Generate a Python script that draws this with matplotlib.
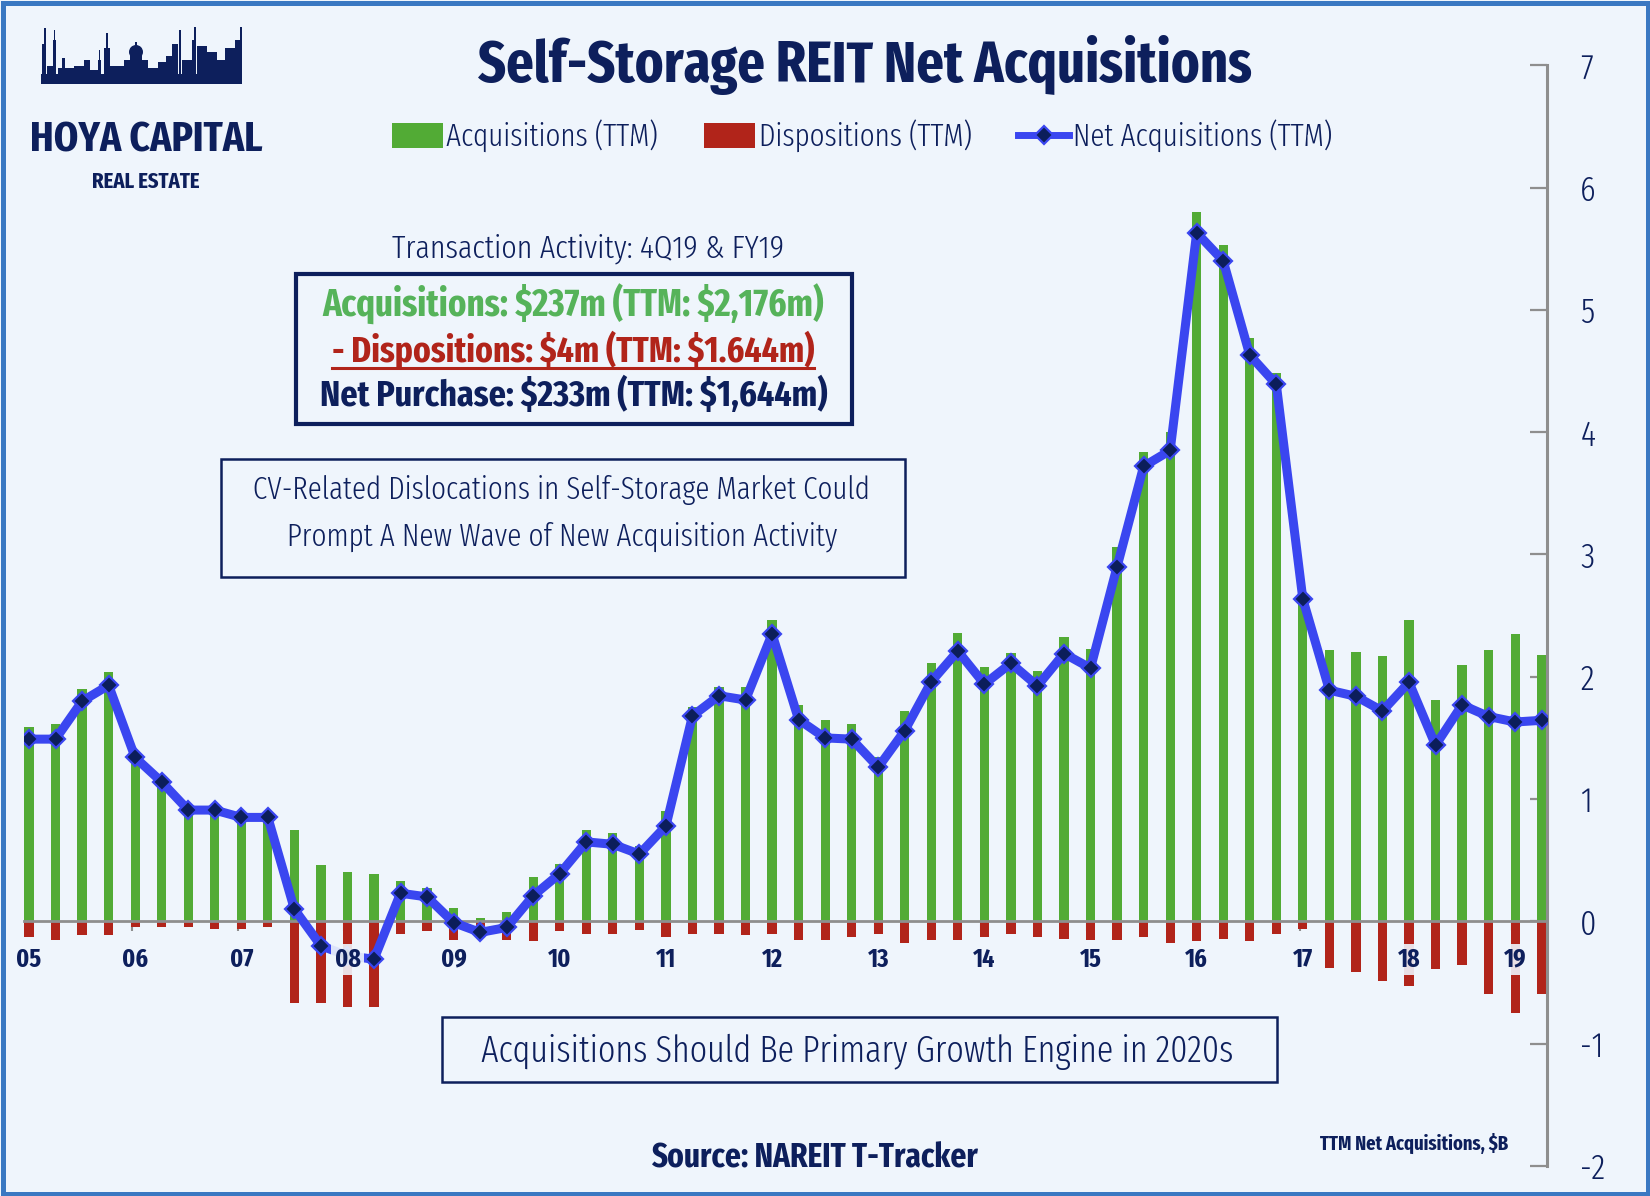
import os
import numpy as np
import matplotlib
matplotlib.use('Agg')
import matplotlib.pyplot as plt
from matplotlib import font_manager as fm
from matplotlib.font_manager import FontProperties
from matplotlib.textpath import TextPath
from matplotlib.patches import Rectangle, Patch, Ellipse
from matplotlib.lines import Line2D

# ---------------- data ----------------
years = ['05', '06', '07', '08', '09', '10', '11', '12', '13', '14', '15', '16', '17', '18', '19']

acquisitions = [1.59, 1.61, 1.90, 2.04,
                1.36, 1.15, 0.93, 0.93,
                0.87, 0.87, 0.75, 0.46,
                0.40, 0.39, 0.33, 0.27,
                0.11, 0.03, 0.08, 0.36,
                0.47, 0.75, 0.72, 0.62,
                0.90, 1.75, 1.92, 1.92,
                2.46, 1.77, 1.645, 1.61,
                1.345, 1.72, 2.11, 2.36,
                2.08, 2.195, 2.05, 2.325,
                2.23, 3.06, 3.84, 4.00,
                5.80, 5.53, 4.77, 4.48,
                2.66, 2.22, 2.20, 2.17,
                2.465, 1.81, 2.10, 2.22,
                2.35, 2.176]

dispositions = [0.13, 0.15, 0.11, 0.11,
                0.05, 0.05, 0.05, 0.06,
                0.06, 0.05, 0.67, 0.67,
                0.70, 0.70, 0.10, 0.08,
                0.15, 0.05, 0.15, 0.16,
                0.08, 0.10, 0.10, 0.07,
                0.13, 0.10, 0.10, 0.11,
                0.10, 0.15, 0.15, 0.13,
                0.10, 0.18, 0.15, 0.15,
                0.13, 0.10, 0.13, 0.14,
                0.15, 0.15, 0.13, 0.18,
                0.16, 0.14, 0.16, 0.10,
                0.06, 0.38, 0.41, 0.49,
                0.53, 0.39, 0.36, 0.59,
                0.75, 0.59]

net_acquisitions = [1.49, 1.49, 1.80, 1.93,
                    1.34, 1.14, 0.91, 0.91,
                    0.85, 0.85, 0.10, -0.20,
                    -0.28, -0.31, 0.23, 0.20,
                    -0.01, -0.09, -0.05, 0.21,
                    0.39, 0.65, 0.63, 0.55,
                    0.78, 1.68, 1.845, 1.81,
                    2.35, 1.65, 1.50, 1.49,
                    1.26, 1.56, 1.96, 2.21,
                    1.94, 2.11, 1.925, 2.19,
                    2.07, 2.90, 3.72, 3.85,
                    5.63, 5.40, 4.63, 4.39,
                    2.635, 1.89, 1.84, 1.72,
                    1.955, 1.44, 1.77, 1.675,
                    1.63, 1.644]

y_ticks = [-2, -1, 0, 1, 2, 3, 4, 5, 6, 7]

series_labels = ['Acquisitions (TTM)', 'Dispositions (TTM)', 'Net Acquisitions (TTM)']

# ---------------- style ----------------
W, H, DPI = 1650, 1196, 100
NAVY = '#0D1F5C'
GREEN = '#52AB35'
RED = '#B1241A'
BLUE = '#3A46F0'
MARK = '#0C1E5B'
GREY = '#8E8E8E'
BG = '#EFF5FC'
BORDER = '#3A78C2'
TEXT_GREEN = '#56B35A'


def _weight(f):
    w = f.weight
    if isinstance(w, str):
        w = fm.weight_dict.get(w, 400)
    return int(w)


def _cond_rank(f):
    s = (f.fname + ' ' + f.name).lower().replace(' ', '').replace('-', '').replace('_', '')
    if 'extracondensed' in s:
        return 0
    if 'ultracondensed' in s:
        return 4
    if 'semicondensed' in s:
        return 3
    if 'condensed' in s or 'narrow' in s:
        return 1
    if str(f.stretch) in ('condensed', 'extra-condensed', 'semi-condensed'):
        return 2
    return 9


def pick_font(target_weight, fallback_weight):
    best, bscore = None, None
    for f in fm.fontManager.ttflist:
        if f.style != 'normal':
            continue
        if not f.fname.lower().endswith(('.ttf', '.otf')):
            continue
        r = _cond_rank(f)
        if r == 9:
            continue
        dw = abs(_weight(f) - target_weight)
        score = (dw > 150, r, dw)
        if bscore is None or score < bscore:
            best, bscore = f, score
    if best is not None:
        return FontProperties(fname=best.fname)
    return FontProperties(family=['DejaVu Sans'], weight=fallback_weight)


BOLD_FP = pick_font(650, 'bold')
REG_FP = pick_font(300, 'normal')

fig = plt.figure(figsize=(W / DPI, H / DPI), dpi=DPI)
fig.patch.set_facecolor(BG)
renderer = fig.canvas.get_renderer()


def fx(x):
    return x / W


def fy(y):
    return 1 - y / H


def cap_ratio(fp):
    try:
        tp = TextPath((0, 0), 'H', size=100, prop=fp)
        r = tp.get_extents().height / 100.0
        if 0.4 < r < 0.95:
            return r
    except Exception:
        pass
    return 0.72


def sized(s, base_fp, cap, width=None, lo=0.55, hi=1.12):
    p = base_fp.copy()
    size_px = cap / cap_ratio(base_fp)
    p.set_size(size_px * 72 / DPI)
    if width:
        t = fig.text(0, 0, s, fontproperties=p, parse_math=False)
        w = t.get_window_extent(renderer).width
        t.remove()
        k = min(max(width / w, lo), hi)
        p.set_size(size_px * k * 72 / DPI)
    return p


def put(s, x, base_y, cap, width, base_fp, color, ha='center', lo=0.55, hi=1.12):
    p = sized(s, base_fp, cap, width, lo, hi)
    return fig.text(fx(x), fy(base_y), s, fontproperties=p, color=color,
                    ha=ha, va='baseline', parse_math=False)


def box(x0, y0, x1, y1, lw):
    fig.add_artist(Rectangle((fx(x0), fy(y1)), (x1 - x0) / W, (y1 - y0) / H,
                             transform=fig.transFigure, fill=False, ec=NAVY, lw=lw))


# ---------------- main axes ----------------
x_left_px, x_right_px = 23.96, 1547.0
y_top_px, y_bot_px = 65.2, 1166.0
ax = fig.add_axes([fx(x_left_px), fy(y_bot_px), (x_right_px - x_left_px) / W, (y_bot_px - y_top_px) / H])
ax.patch.set_alpha(0)

x = np.arange(len(acquisitions))
acq = np.array(acquisitions)
disp = np.array(dispositions)
net = np.array(net_acquisitions)

ax.bar(x, acq, width=0.35, color=GREEN, zorder=2, label=series_labels[0])
ax.bar(x, -disp, width=0.35, color=RED, zorder=2, label=series_labels[1])
ax.plot(x, net, color=BLUE, lw=6.5, marker='D', ms=9.4, mfc=MARK, mec=BLUE, mew=1.6,
        zorder=4, solid_joinstyle='round', label=series_labels[2])

ax.set_xlim(-0.19, 57.2)
ax.set_ylim(-2, 7)

for side in ('top', 'left'):
    ax.spines[side].set_visible(False)
ax.spines['bottom'].set_position(('data', 0))
ax.spines['bottom'].set_color(GREY)
ax.spines['bottom'].set_linewidth(2.0)
ax.spines['right'].set_color(GREY)
ax.spines['right'].set_linewidth(2.2)

year_pos = x[::4]
ax.set_xticks(year_pos - 0.12)
ax.tick_params(axis='x', direction='out', length=7, width=1.5, color=GREY, labelbottom=False)

tick_fp = sized('0', REG_FP, 24)
ax.yaxis.set_ticks_position('right')
ax.set_yticks(y_ticks, [str(v) for v in y_ticks], fontproperties=tick_fp, color=NAVY)
ax.tick_params(axis='y', direction='in', length=12, width=1.6, color=GREY, pad=24)

year_fp = sized('05', BOLD_FP, 18, 25, lo=0.7, hi=1.15)
for pos, lab in zip(year_pos, years):
    ax.text(pos, -0.37, lab, ha='center', va='baseline', fontproperties=year_fp, color=NAVY,
            zorder=6, bbox=dict(boxstyle='square,pad=0.12', fc=BG, ec='none', alpha=0.9))

# ---------------- title & legend ----------------
put('Self-Storage REIT Net Acquisitions', 864.5, 82, 44, 775, BOLD_FP, NAVY, lo=0.45)

leg_fp = sized('Acquisitions (TTM)', REG_FP, 25, 212, lo=0.5)
F_px = leg_fp.get_size_in_points() * DPI / 72
handles = [Patch(fc=GREEN, ec='none'), Patch(fc=RED, ec='none'),
           Line2D([], [], color=BLUE, lw=5, marker='D', ms=9.4, mfc=MARK, mec=BLUE, mew=1.6)]
fig.legend(handles, series_labels, loc='center', bbox_to_anchor=(fx(862), fy(136)), ncol=3,
           frameon=False, prop=leg_fp, labelcolor=NAVY, handlelength=51 / F_px,
           handleheight=26 / F_px, handletextpad=4 / F_px, columnspacing=46 / F_px,
           borderaxespad=0, borderpad=0, numpoints=1)

# ---------------- annotation boxes ----------------
put('Transaction Activity: 4Q19 & FY19', 588, 258, 22, 392, REG_FP, NAVY)
box(296, 274, 852, 424, 3.0)
put('Acquisitions: $237m (TTM: $2,176m)', 573.5, 317, 25, 501, BOLD_FP, TEXT_GREEN)
t_disp = put('- Dispositions: $4m (TTM: $1.644m)', 573, 362, 25, 482, BOLD_FP, RED)
bb = t_disp.get_window_extent(renderer)
fig.add_artist(Line2D([bb.x0 / W, bb.x1 / W], [fy(367.5)] * 2, transform=fig.transFigure,
                      color=RED, lw=2.2))
put('Net Purchase: $233m (TTM: $1,644m)', 574, 406, 24, 508, BOLD_FP, NAVY)

box(221, 459, 905, 577, 1.8)
put('CV-Related Dislocations in Self-Storage Market Could', 561, 499, 23, 618, REG_FP, NAVY)
put('Prompt A New Wave of New Acquisition Activity', 562, 545, 23, 551, REG_FP, NAVY)

box(442, 1017, 1277, 1082, 1.8)
put('Acquisitions Should Be Primary Growth Engine in 2020s', 857.5, 1062, 27, 751, REG_FP, NAVY)

put('Source: NAREIT T-Tracker', 814.5, 1168, 23, 327, BOLD_FP, NAVY)
put('TTM Net Acquisitions, $B', 1508, 1150, 13, 189, BOLD_FP, NAVY, ha='right')

# ---------------- logo ----------------
skyline = [(42, 3, 44), (44, 1.5, 28), (47, 6, 66), (53, 2.5, 40), (54.5, 1, 30),
           (58, 16, 68), (62, 3, 58), (74, 10, 66), (84, 6, 60), (90, 8, 70),
           (98, 3, 60), (99, 1.2, 50), (104, 6, 48), (106.3, 1.5, 33), (110, 14, 66),
           (124, 24, 60), (130, 12, 50), (135.4, 1.4, 42), (148, 10, 68), (158, 8, 62),
           (166, 6, 56), (172, 6, 44), (178.5, 2, 30), (182, 10, 60), (192, 3, 40),
           (194, 2, 27), (197, 10, 46), (207, 10, 52), (217, 8, 60), (225, 10, 48),
           (235, 6, 40), (240, 2, 27)]
for bx, bw, btop in skyline:
    fig.add_artist(Rectangle((fx(bx), fy(84)), bw / W, (84 - btop) / H,
                             transform=fig.transFigure, fc=NAVY, ec='none'))
fig.add_artist(Ellipse((fx(136), fy(52)), 14 / W, 14 / H, transform=fig.transFigure,
                       fc=NAVY, ec='none'))
fig.add_artist(Rectangle((fx(41), fy(84)), 201 / W, 10 / H, transform=fig.transFigure,
                         fc=NAVY, ec='none'))
put('HOYA CAPITAL', 146, 152, 64, 232, BOLD_FP, NAVY, lo=0.3)
put('REAL ESTATE', 146, 188, 29, 108, BOLD_FP, NAVY, lo=0.35)

# ---------------- frame ----------------
fig.add_artist(Rectangle((fx(2.5), fy(1193.5)), 1645 / W, 1191 / H, transform=fig.transFigure,
                         fill=False, ec=BORDER, lw=3.6))

fig.savefig('out.png', dpi=DPI, facecolor=BG)
